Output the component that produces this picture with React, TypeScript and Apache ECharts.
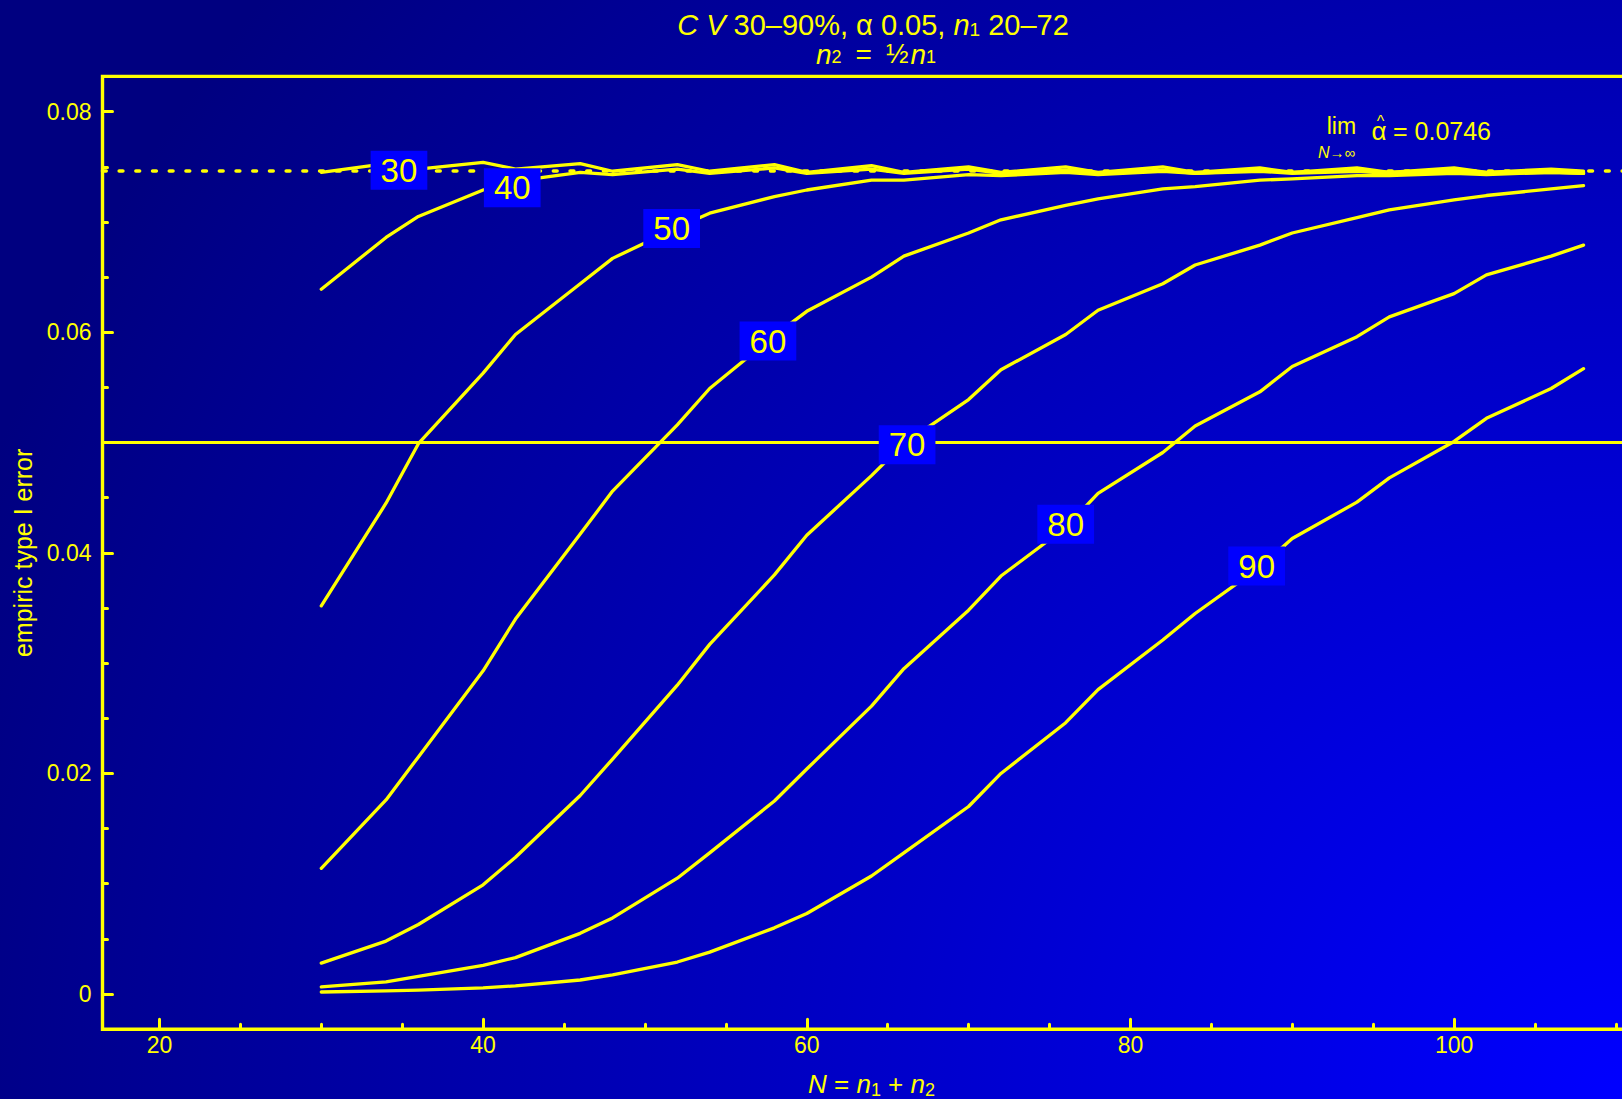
import React, { useEffect, useRef } from "react";
import * as echarts from "echarts";

const FONT = '"Liberation Sans", Arial, Helvetica, sans-serif';
const YEL = "#FFFF00";

// total sample size N = n1 + n2
const N = [30, 34, 36, 40, 42, 46, 48, 52, 54, 58, 60, 64, 66, 70, 72, 76, 78, 82, 84, 88, 90, 94, 96, 100, 102, 106, 108];

const cv30 = [0.0745, 0.0753, 0.0748, 0.0754, 0.0748, 0.0753, 0.0746, 0.0752, 0.0746, 0.0752, 0.0745, 0.0751, 0.0745, 0.075, 0.0745, 0.075, 0.0745, 0.075, 0.0745, 0.0749, 0.0745, 0.0749, 0.0745, 0.0749, 0.0745, 0.0748, 0.0746];
const cv40 = [0.0639, 0.0686, 0.0705, 0.0729, 0.0737, 0.0745, 0.0743, 0.0748, 0.0744, 0.0749, 0.0744, 0.0748, 0.0744, 0.0748, 0.0744, 0.0747, 0.0744, 0.0747, 0.0744, 0.0747, 0.0745, 0.0747, 0.0745, 0.0747, 0.0745, 0.0746, 0.0745];
const cv50 = [0.0352, 0.0445, 0.0499, 0.0563, 0.0598, 0.0644, 0.0667, 0.0695, 0.0708, 0.0723, 0.0729, 0.0738, 0.0738, 0.0743, 0.0742, 0.0745, 0.0743, 0.0746, 0.0744, 0.0746, 0.0744, 0.0746, 0.0744, 0.0746, 0.0744, 0.0745, 0.0744];
const cv60 = [0.0114, 0.0176, 0.0215, 0.0293, 0.034, 0.0417, 0.0456, 0.0516, 0.0549, 0.0597, 0.0619, 0.065, 0.0669, 0.069, 0.0702, 0.0715, 0.0721, 0.073, 0.0732, 0.0738, 0.0739, 0.0742, 0.0742, 0.0744, 0.0743, 0.0745, 0.0744];
const cv70 = [0.0028, 0.0048, 0.0063, 0.0099, 0.0124, 0.018, 0.0213, 0.028, 0.0317, 0.038, 0.0416, 0.047, 0.0499, 0.0539, 0.0566, 0.0598, 0.062, 0.0644, 0.0661, 0.0679, 0.069, 0.0704, 0.0711, 0.072, 0.0724, 0.073, 0.0733];
const cv80 = [0.00064, 0.0011, 0.0016, 0.0026, 0.0033, 0.0055, 0.0069, 0.0105, 0.0128, 0.0175, 0.0204, 0.0261, 0.0295, 0.0348, 0.0379, 0.0423, 0.0454, 0.0491, 0.0515, 0.0546, 0.0569, 0.0596, 0.0614, 0.0635, 0.0652, 0.0669, 0.0679];
const cv90 = [0.00018, 0.00028, 0.00035, 0.00055, 0.00074, 0.00127, 0.00174, 0.0029, 0.0038, 0.006, 0.0073, 0.0107, 0.0128, 0.017, 0.02, 0.0246, 0.0276, 0.0321, 0.0345, 0.0387, 0.0413, 0.0446, 0.0468, 0.0501, 0.0522, 0.0549, 0.0567];

const seriesValues = [cv30, cv40, cv50, cv60, cv70, cv80, cv90];
const cvNames = ["30", "40", "50", "60", "70", "80", "90"];

// curve label positions (N, error)
const labelN = [34.8, 41.8, 51.65, 57.6, 66.2, 76.0, 87.8];
const labelV = [0.0747, 0.0731, 0.0694, 0.0592, 0.0498, 0.0426, 0.0388];

const nominalAlpha = 0.05;
const limAlpha = 0.0746;

const xMin = 16.48;
const xMax = 111.52;
const yMin = -0.0032;
const yMax = 0.0832;

const xMajor = [20, 40, 60, 80, 100];
const xMinor = [25, 30, 35, 45, 50, 55, 65, 70, 75, 85, 90, 95, 105, 110];
const yMajor = [0, 0.02, 0.04, 0.06, 0.08];
const yMinor = [0.005, 0.01, 0.015, 0.025, 0.03, 0.035, 0.045, 0.05, 0.055, 0.065, 0.07, 0.075];

export default function App() {
  const ref = useRef<HTMLDivElement>(null);

  useEffect(() => {
    if (!ref.current) return;
    const chart = echarts.init(ref.current, undefined, { renderer: "svg" });

    const lineSeries = seriesValues.map((vals, k) => ({
      name: "CV " + cvNames[k] + "%",
      type: "line",
      data: N.map((n, i) => [n, vals[i]]),
      showSymbol: false,
      symbol: "none",
      lineStyle: { color: YEL, width: 3.3, cap: "round", join: "round" },
      z: 3,
      silent: true,
      ...(k === 0
        ? {
            markLine: {
              silent: true,
              precision: 5,
              symbol: ["none", "none"],
              label: { show: false },
              data: [
                { yAxis: nominalAlpha, lineStyle: { color: YEL, width: 3.2, type: "solid" } },
                {
                  yAxis: limAlpha,
                  lineStyle: { color: YEL, width: 3.6, type: [3.7, 13], cap: "round" },
                },
              ],
            },
          }
        : {}),
    }));

    const labelSeries = {
      type: "scatter",
      data: labelN.map((n, i) => ({ value: [n, labelV[i]], name: cvNames[i] })),
      symbolSize: 2,
      itemStyle: { color: "rgba(0,0,0,0)", opacity: 1 },
      z: 10,
      silent: true,
      label: {
        show: true,
        position: "inside",
        formatter: (p: any) => p.name,
        color: YEL,
        opacity: 1,
        fontSize: 33,
        fontFamily: FONT,
        lineHeight: 33,
        backgroundColor: "#0000FF",
        padding: [3, 10, 3, 10],
      },
    };

    const tickStyle = { color: YEL, width: 3, cap: "round" };

    const option: any = {
      animation: false,
      backgroundColor: "#000080",
      textStyle: { fontFamily: FONT },
      grid: {
        left: 102.5,
        right: -18.5,
        top: 76.4,
        bottom: 69.7,
        show: true,
        borderColor: YEL,
        borderWidth: 3.4,
        backgroundColor: "transparent",
        containLabel: false,
        outerBoundsMode: "none",
      },
      xAxis: [
        {
          type: "value",
          min: xMin,
          max: xMax,
          position: "bottom",
          axisLine: { show: false, onZero: false },
          splitLine: { show: false },
          axisTick: { show: true, inside: true, length: 10, customValues: xMajor, lineStyle: tickStyle },
          axisLabel: { customValues: xMajor, color: YEL, fontSize: 23, margin: 4, fontFamily: FONT },
          name: "{it|N} = {it|n}{sub|1} + {it|n}{sub|2}",
          nameLocation: "middle",
          nameGap: 40,
          nameTextStyle: {
            color: YEL,
            fontSize: 26,
            fontFamily: FONT,
            lineHeight: 30,
            rich: {
              it: { fontStyle: "italic", fontSize: 26, color: YEL, fontFamily: FONT, lineHeight: 30 },
              sub: { fontSize: 18, color: YEL, fontFamily: FONT, lineHeight: 16, verticalAlign: "bottom" },
            },
          },
        },
        {
          type: "value",
          min: xMin,
          max: xMax,
          position: "bottom",
          axisLine: { show: false, onZero: false },
          splitLine: { show: false },
          axisTick: { show: true, inside: true, length: 5, customValues: xMinor, lineStyle: tickStyle },
          axisLabel: { show: false },
        },
      ],
      yAxis: [
        {
          type: "value",
          min: yMin,
          max: yMax,
          position: "left",
          axisLine: { show: false, onZero: false },
          splitLine: { show: false },
          axisTick: { show: true, inside: true, length: 10, customValues: yMajor, lineStyle: tickStyle },
          axisLabel: {
            customValues: yMajor,
            color: YEL,
            fontSize: 23,
            margin: 11,
            fontFamily: FONT,
            formatter: (v: number) => String(v),
          },
          name: "empiric type I error",
          nameLocation: "middle",
          nameGap: 66,
          nameTextStyle: { color: YEL, fontSize: 25, fontFamily: FONT },
        },
        {
          type: "value",
          min: yMin,
          max: yMax,
          position: "left",
          axisLine: { show: false, onZero: false },
          splitLine: { show: false },
          axisTick: { show: true, inside: true, length: 5, customValues: yMinor, lineStyle: tickStyle },
          axisLabel: { show: false },
        },
      ],
      graphic: [
        {
          type: "rect",
          z: -100,
          silent: true,
          shape: { x: 0, y: 0, width: 1622, height: 1099 },
          style: {
            fill: new echarts.graphic.RadialGradient(
              1622,
              1099,
              1750,
              [
                { offset: 0, color: "#0000FF" },
                { offset: 1, color: "#000080" },
              ],
              true
            ),
          },
        },
        {
          type: "text",
          x: 873,
          y: 25,
          silent: true,
          style: {
            text: "{it|C V} 30–90%, α 0.05, {it|n}{sub|1} 20–72",
            fill: YEL,
            fontSize: 29,
            fontFamily: FONT,
            lineHeight: 28,
            align: "center",
            verticalAlign: "middle",
            rich: {
              it: { fontStyle: "italic", fontSize: 29, lineHeight: 28, fill: YEL, fontFamily: FONT },
              sub: { fontSize: 19, lineHeight: 14, verticalAlign: "bottom", fill: YEL, fontFamily: FONT },
            },
          },
        },
        {
          type: "text",
          x: 876,
          y: 54,
          silent: true,
          style: {
            text: "{it|n}{sub|2}{eq|=}{h|½}{it|n}{sub|1}",
            fill: YEL,
            fontSize: 27,
            fontFamily: FONT,
            lineHeight: 24,
            align: "center",
            verticalAlign: "middle",
            rich: {
              it: { fontStyle: "italic", fontSize: 28, lineHeight: 24, fill: YEL, fontFamily: FONT },
              sub: { fontSize: 18, lineHeight: 10, verticalAlign: "bottom", fill: YEL, fontFamily: FONT },
              eq: { fontSize: 28, lineHeight: 24, fill: YEL, fontFamily: FONT, padding: [0, 14, 0, 14] },
              h: { fontSize: 27, lineHeight: 24, fill: YEL, fontFamily: FONT, padding: [0, 2, 0, 0] },
            },
          },
        },
        {
          type: "text",
          x: 1326.7,
          y: 126,
          silent: true,
          style: { text: "lim", fill: YEL, fontSize: 23, fontFamily: FONT, align: "left", verticalAlign: "middle" },
        },
        {
          type: "text",
          x: 1318,
          y: 152,
          silent: true,
          style: {
            text: "{it|N}→∞",
            fill: YEL,
            fontSize: 15,
            fontFamily: FONT,
            align: "left",
            verticalAlign: "middle",
            rich: { it: { fontStyle: "italic", fontSize: 16, fill: YEL, fontFamily: FONT } },
          },
        },
        {
          type: "text",
          x: 1371.5,
          y: 130.7,
          silent: true,
          style: { text: "α", fill: YEL, fontSize: 26, fontFamily: FONT, align: "left", verticalAlign: "middle" },
        },
        {
          type: "text",
          x: 1380.5,
          y: 121,
          silent: true,
          style: { text: "^", fill: YEL, fontSize: 16, fontFamily: FONT, align: "center", verticalAlign: "middle" },
        },
        {
          type: "text",
          x: 1393,
          y: 130.7,
          silent: true,
          style: { text: "= 0.0746", fill: YEL, fontSize: 25, fontFamily: FONT, align: "left", verticalAlign: "middle" },
        },
      ],
      series: [...lineSeries, labelSeries],
    };

    chart.setOption(option);
    return () => chart.dispose();
  }, []);

  return (
    <div
      ref={ref}
      style={{ position: "fixed", left: 0, top: 0, width: 1622, height: 1099, overflow: "hidden" }}
    />
  );
}
